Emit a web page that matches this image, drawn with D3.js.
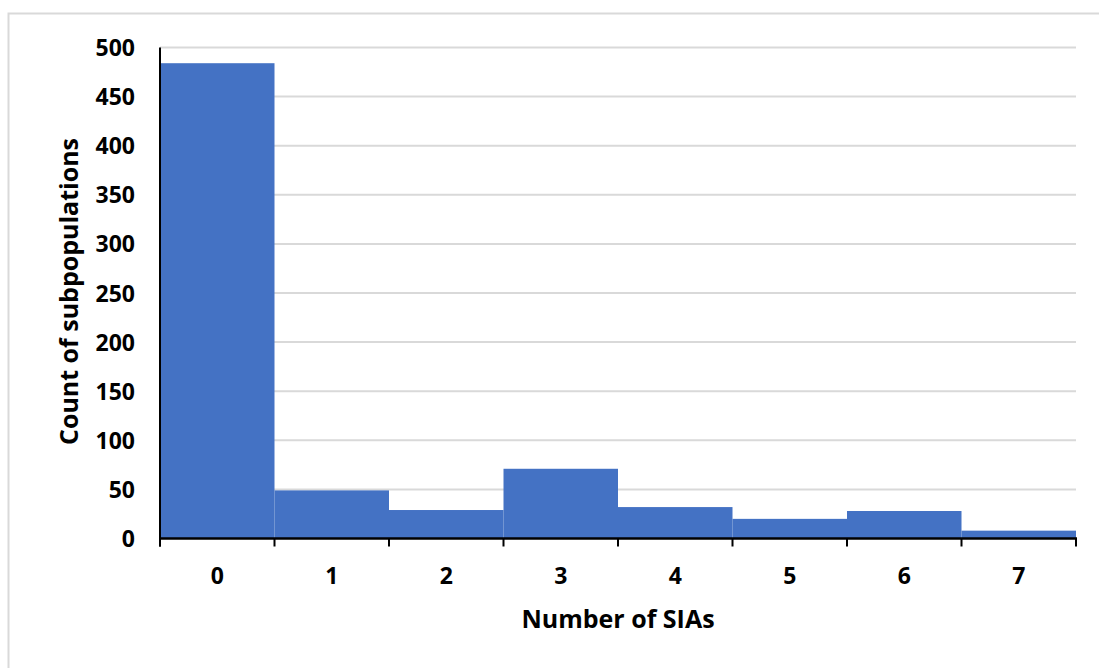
<!DOCTYPE html>
<html>
<head>
<meta charset="utf-8">
<script src="https://cdn.jsdelivr.net/npm/d3@7"></script>
<style>
  html, body { margin: 0; padding: 0; background: #fff; }
  svg { display: block; }
  text { font-family: "Open Sans", "Noto Sans", sans-serif; font-weight: 700; fill: #000; }
</style>
</head>
<body>
<svg id="chart" width="1099" height="668"></svg>
<script>
const categories = ["0", "1", "2", "3", "4", "5", "6", "7"];
const counts = [484, 49, 29, 71, 32, 20, 28, 8];
const yTicks = [0, 50, 100, 150, 200, 250, 300, 350, 400, 450, 500];
const xTitle = "Number of SIAs";
const yTitle = "Count of subpopulations";

const svg = d3.select("#chart");
const W = 1099, H = 668;
const m = { left: 160, right: W - 1076, top: 47.5, bottom: H - 538.5 };

// outer chart border
svg.append("rect")
  .attr("x", 8.5).attr("y", 13.5)
  .attr("width", W + 20).attr("height", H + 20)
  .attr("fill", "none").attr("stroke", "#d9d9d9").attr("stroke-width", 2);

const x = d3.scaleBand().domain(categories).range([m.left, W - m.right]).padding(0);
const y = d3.scaleLinear().domain([0, 500]).range([H - m.bottom, m.top]);

// gridlines
svg.append("g").selectAll("line").data(yTicks.filter(d => d > 0)).join("line")
  .attr("x1", m.left).attr("x2", W - m.right)
  .attr("y1", d => y(d)).attr("y2", d => y(d))
  .attr("stroke", "#d9d9d9").attr("stroke-width", 2);

// bars
svg.append("g").selectAll("rect").data(categories).join("rect")
  .attr("x", d => x(d))
  .attr("width", x.bandwidth())
  .attr("y", (d, i) => y(counts[i]))
  .attr("height", (d, i) => y(0) - y(counts[i]))
  .attr("fill", "#4472c4");

// y axis
const yAxis = d3.axisLeft(y).tickValues(yTicks).tickSize(0).tickPadding(25);
const gy = svg.append("g").attr("transform", `translate(${m.left},0)`).call(yAxis);
gy.select(".domain").remove();
gy.selectAll("text").style("font-size", "23px").style("font-family", "'Open Sans', sans-serif").style("font-weight", 700).attr("dy", "0.35em");
svg.append("line")
  .attr("x1", m.left).attr("x2", m.left)
  .attr("y1", y(500)).attr("y2", y(0) + 8)
  .attr("stroke", "#000").attr("stroke-width", 2);

// x axis baseline and ticks
svg.append("line")
  .attr("x1", m.left - 1).attr("x2", W - m.right + 1)
  .attr("y1", y(0)).attr("y2", y(0))
  .attr("stroke", "#000").attr("stroke-width", 2.5);
const boundaries = categories.map(c => x(c)).concat([x(categories[categories.length - 1]) + x.bandwidth()]);
svg.append("g").selectAll("line").data(boundaries).join("line")
  .attr("x1", d => d).attr("x2", d => d)
  .attr("y1", y(0)).attr("y2", y(0) + 8)
  .attr("stroke", "#000").attr("stroke-width", 2);

// x tick labels
svg.append("g").selectAll("text").data(categories).join("text")
  .attr("x", d => x(d) + x.bandwidth() / 2)
  .attr("y", 584)
  .attr("text-anchor", "middle")
  .style("font-size", "23px")
  .text(d => d);

// axis titles
svg.append("text")
  .attr("x", 618).attr("y", 628)
  .attr("text-anchor", "middle")
  .style("font-size", "25px")
  .text(xTitle);

svg.append("text")
  .attr("transform", `translate(78,291.5) rotate(-90)`)
  .attr("text-anchor", "middle")
  .style("font-size", "25px")
  .text(yTitle);
</script>
</body>
</html>
